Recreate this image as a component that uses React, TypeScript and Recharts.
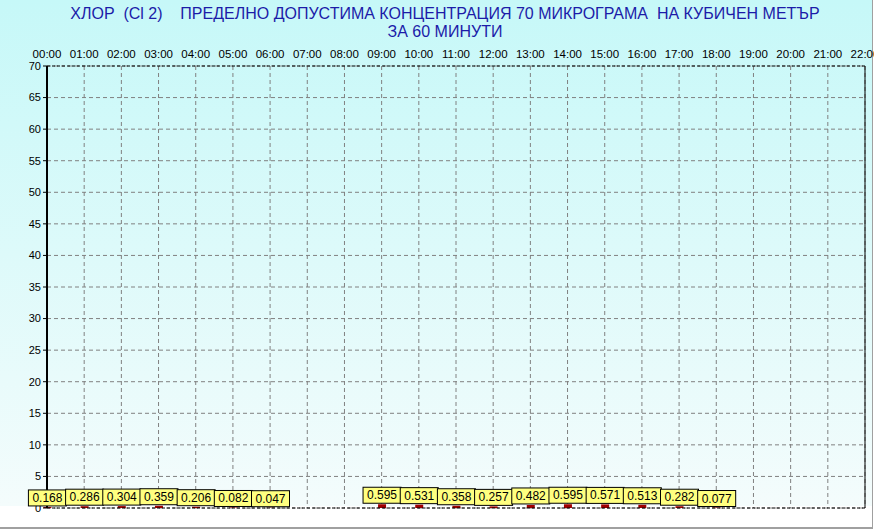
import React from "react";
import { ComposedChart, Bar, XAxis, YAxis, CartesianGrid, ReferenceLine, LabelList } from "recharts";

const hours = [
  "00:00", "01:00", "02:00", "03:00", "04:00", "05:00", "06:00", "07:00", "08:00", "09:00", "10:00", "11:00",
  "12:00", "13:00", "14:00", "15:00", "16:00", "17:00", "18:00", "19:00", "20:00", "21:00", "22:00",
];

// hourly chlorine values, null where there is no reading
const values: (number | null)[] = [
  0.168, 0.286, 0.304, 0.359, 0.206, 0.082, 0.047, null, null, 0.595, 0.531, 0.358,
  0.257, 0.482, 0.595, 0.571, 0.513, 0.282, 0.077, null, null, null, null,
];

const yTicks = [0, 5, 10, 15, 20, 25, 30, 35, 40, 45, 50, 55, 60, 65, 70];
const xTicks = hours.map((_, i) => i);

const titleLine1 = "ХЛОР  (Cl 2)    ПРЕДЕЛНО ДОПУСТИМА КОНЦЕНТРАЦИЯ 70 МИКРОГРАМА  НА КУБИЧЕН МЕТЪР";
const titleLine2 = "ЗА 60 МИНУТИ";

const data = hours.map((h, i) => ({ x: i, hour: h, value: values[i] }));

const font = "'Liberation Sans', Arial, sans-serif";

function ValueBox(props: any) {
  const { x, y, width, value } = props;
  if (value == null) return null;
  const cx = x + width / 2;
  return (
    <g>
      <rect x={cx - 19} y={y - 17} width={38} height={16} fill="#ffff80" stroke="#000" strokeWidth={1} />
      <text x={cx} y={y - 5} textAnchor="middle" fontSize={12} fontFamily={font} fill="#000">
        {value.toFixed(3)}
      </text>
    </g>
  );
}

export default function App() {
  return (
    <div
      style={{
        position: "absolute",
        left: 0,
        top: 0,
        width: 872,
        height: 527,
        borderRight: "1px solid #a0a0a0",
        borderBottom: "2px solid #a0a0a0",
        background: "linear-gradient(to bottom, #c6f8f8 0%, #f4fcfc 96%, #ffffff 96%)",
        fontFamily: font,
      }}
    >
      <div
        style={{
          position: "absolute",
          left: 8,
          top: 5,
          width: 874,
          textAlign: "center",
          whiteSpace: "pre",
          color: "#1c1ca8",
          fontSize: 16,
          lineHeight: "18px",
        }}
      >
        {titleLine1}
        {"\n"}
        {titleLine2}
      </div>
      <div style={{ position: "absolute", left: 0, top: 0 }}>
        <ComposedChart width={874} height={529} data={data} margin={{ top: 36, right: 9, bottom: 21, left: 0 }}>
          <CartesianGrid stroke="#808080" strokeDasharray="4 3" />
          <XAxis
            dataKey="x"
            type="number"
            orientation="top"
            domain={[0, 22]}
            ticks={xTicks}
            interval={0}
            height={30}
            tickFormatter={(i: number) => hours[i]}
            tick={{ fontSize: 11.5, fill: "#000", fontFamily: font }}
            tickLine={false}
            axisLine={false}
            tickSize={6}
            tickMargin={2}
          />
          <YAxis
            type="number"
            domain={[0, 70]}
            ticks={yTicks}
            interval={0}
            width={47}
            tick={{ fontSize: 11, fill: "#000", fontFamily: font }}
            tickLine={{ stroke: "#000" }}
            tickSize={4}
            axisLine={{ stroke: "#000", strokeWidth: 2 }}
          />
          <ReferenceLine y={70} stroke="#000" strokeDasharray="3 2" />
          <ReferenceLine y={0} stroke="#000" strokeDasharray="3 2" />
          <ReferenceLine x={22} stroke="#000" />
          <Bar dataKey="value" fill="#a00000" barSize={8} isAnimationActive={false}>
            <LabelList dataKey="value" content={ValueBox} />
          </Bar>
        </ComposedChart>
      </div>
    </div>
  );
}
